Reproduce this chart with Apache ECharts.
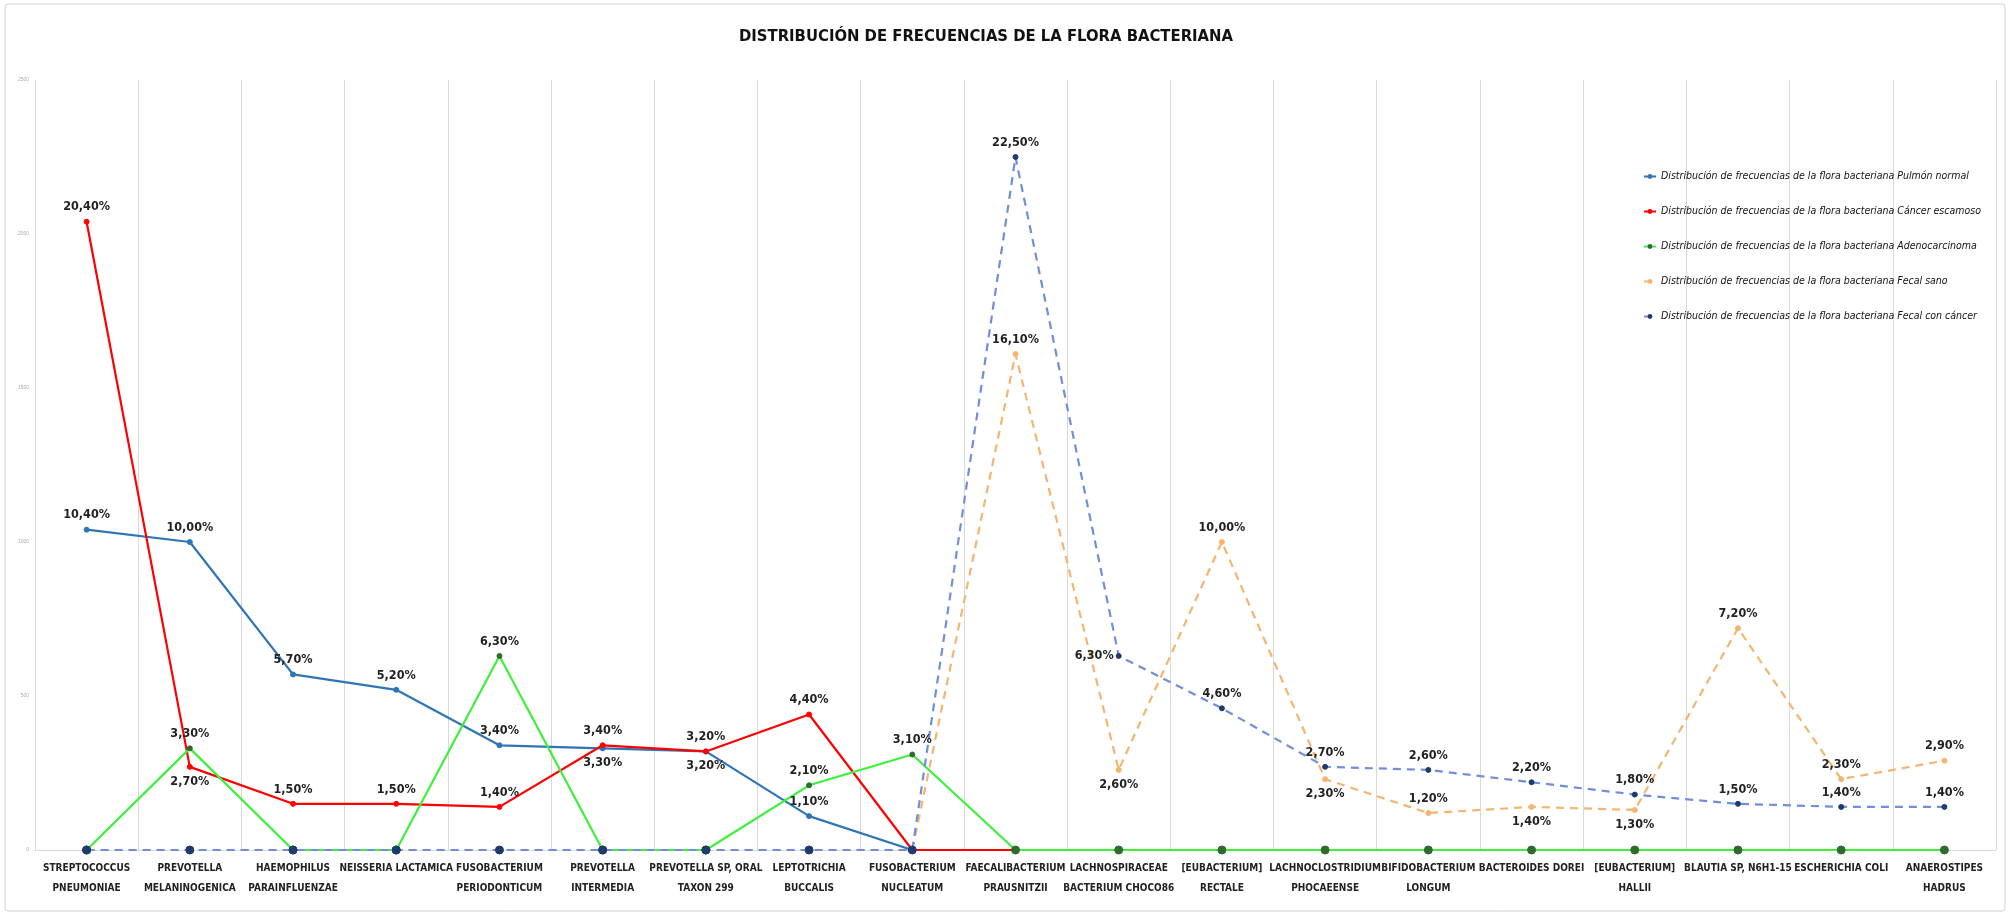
<!DOCTYPE html>
<html>
<head>
<meta charset="utf-8">
<script src="https://cdn.jsdelivr.net/npm/echarts@6/dist/echarts.min.js"></script>
<style>
html,body{margin:0;padding:0;background:#fff;}
#c{width:2011px;height:916px;}
</style>
</head>
<body>
<div id="c"></div>
<script>
const categories = [
  'STREPTOCOCCUS\nPNEUMONIAE','PREVOTELLA\nMELANINOGENICA','HAEMOPHILUS\nPARAINFLUENZAE','NEISSERIA LACTAMICA',
  'FUSOBACTERIUM\nPERIODONTICUM','PREVOTELLA\nINTERMEDIA','PREVOTELLA SP, ORAL\nTAXON 299','LEPTOTRICHIA\nBUCCALIS',
  'FUSOBACTERIUM\nNUCLEATUM','FAECALIBACTERIUM\nPRAUSNITZII','LACHNOSPIRACEAE\nBACTERIUM CHOCO86','[EUBACTERIUM]\nRECTALE',
  'LACHNOCLOSTRIDIUM\nPHOCAEENSE','BIFIDOBACTERIUM\nLONGUM','BACTEROIDES DOREI','[EUBACTERIUM]\nHALLII',
  'BLAUTIA SP, N6H1-15','ESCHERICHIA COLI','ANAEROSTIPES\nHADRUS'
];
const seriesNames = [
  'Distribución de frecuencias de la flora bacteriana Pulmón normal',
  'Distribución de frecuencias de la flora bacteriana Cáncer escamoso',
  'Distribución de frecuencias de la flora bacteriana Adenocarcinoma',
  'Distribución de frecuencias de la flora bacteriana Fecal sano',
  'Distribución de frecuencias de la flora bacteriana Fecal con cáncer'
];
const pulmonNormal   = [10.4,10.0,5.7,5.2,3.4,3.3,3.2,1.1,0, 0,0,0,0,0,0,0,0,0,0];
const cancerEscamoso = [20.4,2.7,1.5,1.5,1.4,3.4,3.2,4.4,0, 0,0,0,0,0,0,0,0,0,0];
const adenocarcinoma = [0,3.3,0,0,6.3,0,0,2.1,3.1, 0,0,0,0,0,0,0,0,0,0];
const fecalSano      = [0,0,0,0,0,0,0,0,0, 16.1,2.6,10.0,2.3,1.2,1.4,1.3,7.2,2.3,2.9];
const fecalCancer    = [0,0,0,0,0,0,0,0,0, 22.5,6.3,4.6,2.7,2.6,2.2,1.8,1.5,1.4,1.4];
// indices whose data label sits below / left of the point
const belowIdx = [[5,6],[1],[],[10,12,14,15],[]];
const leftIdx  = [[],[],[],[],[10]];

const FONT = '"Liberation Sans Narrow","DejaVu Sans Condensed",sans-serif';
const fmt = v => v.toFixed(2).replace('.', ',') + '%';
const allData = [pulmonNormal, cancerEscamoso, adenocarcinoma, fecalSano, fecalCancer];
const colors = ['#2E75B6','#FF0000','#3CF03C','#F4B570','#6F8FDB'];
const markerColors = ['#2E75B6','#FF0000','#2F6B2F','#F4B570','#1F3A6E'];
const dashed = [false,false,false,true,true];

const series = allData.map((arr, si) => ({
  name: seriesNames[si],
  type: 'line',
  data: arr.map((v, i) => {
    const o = {value: v};
    if (v === 0) { o.label = {show:false}; }
    else if (belowIdx[si].includes(i)) { o.label = {position:'bottom'}; }
    else if (leftIdx[si].includes(i)) { o.label = {position:'left', distance: 2}; }
    return o;
  }),
  lineStyle: {color: colors[si], width: 2.2, type: dashed[si] ? [8,6] : 'solid'},
  itemStyle: {color: markerColors[si], borderColor: markerColors[si]},
  symbol: 'circle',
  symbolSize: (v) => v === 0 ? ((si === 2 || si === 4) ? 8 : 0) : 5,
  showAllSymbol: true,
  label: {show: true, position: 'top', distance: 5, formatter: p => fmt(p.value),
          fontFamily: FONT, fontWeight: 'bold', fontSize: 12.5, color: '#222'},
  emphasis: {disabled: true},
  animation: false
}));

const chart = echarts.init(document.getElementById('c'), null, {renderer:'canvas'});
chart.setOption({
  backgroundColor: '#fff',
  title: {text: 'DISTRIBUCIÓN DE FRECUENCIAS DE LA FLORA BACTERIANA', left: 981, textAlign: 'center', top: 23,
          textStyle: {fontFamily: FONT, fontWeight: 'bold', fontSize: 16.5, color: '#111'}},
  graphic: [{type:'rect', shape:{x:5, y:4, width:2000, height:907, r:3},
             style:{fill:'none', stroke:'#d0d0d0', lineWidth:1}, silent:true}],
  legend: {orient: 'vertical', left: 1638, top: 164, itemGap: 20, itemWidth: 12, itemHeight: 6,
           data: seriesNames,
           textStyle: {fontFamily: FONT, fontStyle: 'italic', fontWeight: 'normal', fontSize: 10.5, color: '#111', lineHeight: 15}},
  grid: {left: 35, right: 15, top: 80, bottom: 66},
  xAxis: {type: 'category', data: categories, boundaryGap: true,
          axisLine: {lineStyle: {color: '#d9d9d9'}}, axisTick: {show: false},
          splitLine: {show: true, lineStyle: {color: '#d9d9d9', width: 1}},
          axisLabel: {interval: 0, fontFamily: FONT, fontWeight: 'bold', fontSize: 10, color: '#222',
                      lineHeight: 20, margin: 8}},
  yAxis: {type: 'value', min: 0, max: 25, interval: 5,
          axisLine: {show: false}, axisTick: {show: false}, splitLine: {show: false},
          axisLabel: {formatter: v => String(v * 100), fontSize: 5, color: '#aaa', margin: 6}},
  series: series
});
</script>
</body>
</html>
